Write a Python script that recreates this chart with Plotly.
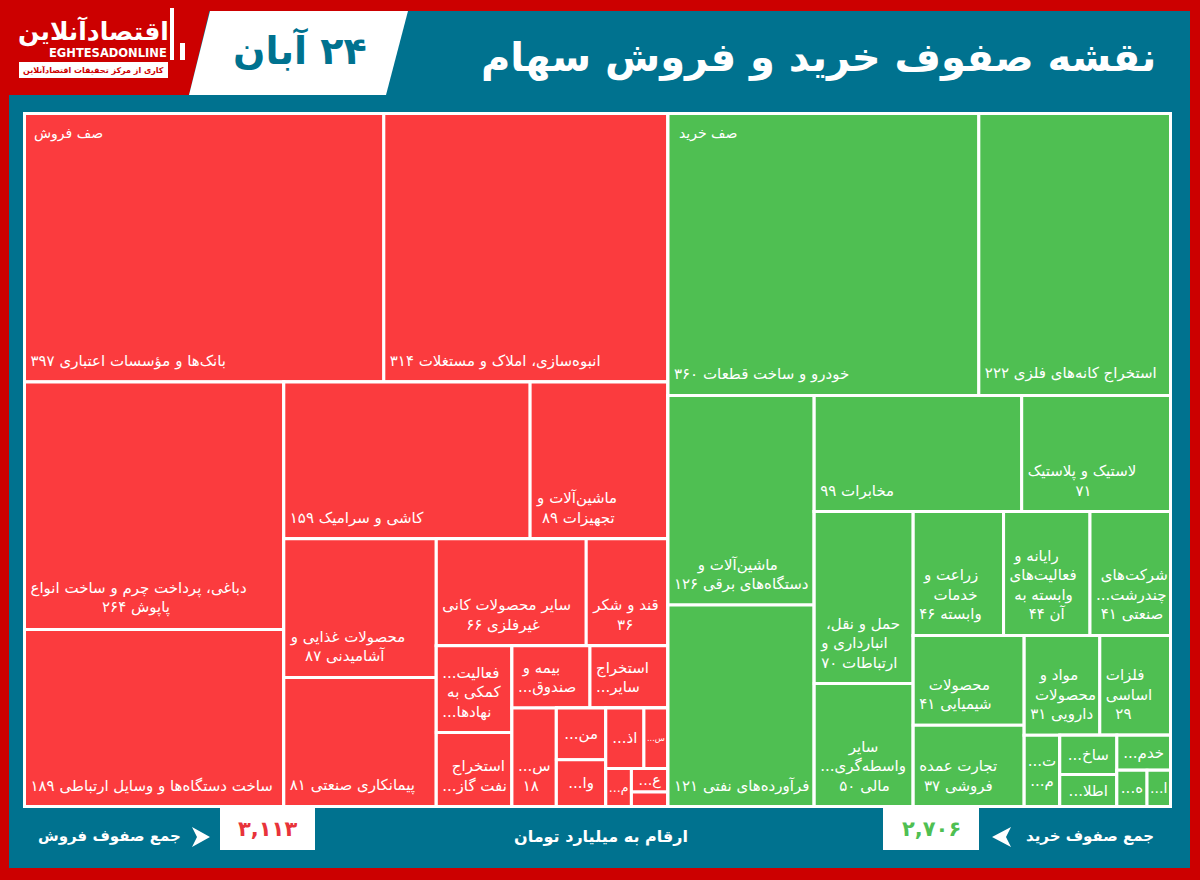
import plotly.graph_objects as go

W = 1200
H = 880
FONT = "DejaVu Sans"

# sell side (red), unlabelled small cells estimated from area
sell_text = [
    "بانک‌ها و مؤسسات اعتباری ۳۹۷",
    "انبوه‌سازی، املاک و مستغلات ۳۱۴",
    "دباغی، پرداخت چرم و ساخت انواع<br>پاپوش ۲۶۴",
    "ساخت دستگاه‌ها و وسایل ارتباطی ۱۸۹",
    "کاشی و سرامیک ۱۵۹",
    "ماشین‌آلات و<br>تجهیزات ۸۹",
    "محصولات غذایی و<br>آشامیدنی ۸۷",
    "پیمانکاری صنعتی ۸۱",
    "سایر محصولات کانی<br>غیرفلزی ۶۶",
    "قند و شکر<br>۳۶",
    "فعالیت...<br>کمکی به<br>نهادها...",
    "استخراج<br>نفت گاز...",
    "بیمه و<br>صندوق...",
    "استخراج<br>سایر...",
    "س...<br>۱۸",
    "من...",
    "وا...",
    "اذ...",
    "س...",
    "م...",
    "ع...",
    "",
]
sell_values = [397, 314, 264, 189, 159, 89, 87, 81, 66, 36, 27, 23, 20, 20, 18, 10.5, 9.5, 9.5, 6, 4, 3.5, 2.2]
# grouping only decides how the cells are packed, same rows and columns as the reference
sell_parents = ["a", "a", "b1", "b1", "c1", "c1", "d1", "d1", "e1", "e1", "f1", "f1", "g1", "g1",
                "g2", "h1", "h1", "i1", "i1", "i2", "j", "j"]
sell_groups = ["sell", "a", "b", "b1", "b2", "c1", "c2", "d1", "d2", "e1", "e2", "f1", "f2", "g1", "g2",
               "h", "h1", "h2", "i1", "i2", "j"]
sell_group_parents = ["", "sell", "sell", "b", "b", "b2", "b2", "c2", "c2", "d2", "d2", "e2", "e2", "f2", "f2",
                      "g2", "h", "h", "h2", "h2", "i2"]

# buy side (green)
buy_text = [
    "خودرو و ساخت قطعات ۳۶۰",
    "استخراج کانه‌های فلزی ۲۲۲",
    "ماشین‌آلات و<br>دستگاه‌های برقی ۱۲۶",
    "فرآورده‌های نفتی ۱۲۱",
    "مخابرات ۹۹",
    "لاستیک و پلاستیک<br>۷۱",
    "حمل و نقل،<br>انبارداری و<br>ارتباطات ۷۰",
    "سایر<br>واسطه‌گری...<br>مالی ۵۰",
    "زراعت و<br>خدمات<br>وابسته ۴۶",
    "رایانه و<br>فعالیت‌های<br>وابسته به<br>آن ۴۴",
    "شرکت‌های<br>چندرشت...<br>صنعتی ۴۱",
    "محصولات<br>شیمیایی ۴۱",
    "تجارت عمده<br>فروشی ۳۷",
    "مواد و<br>محصولات<br>دارویی ۳۱",
    "فلزات<br>اساسی<br>۲۹",
    "ت...<br>م...",
    "ساخ...",
    "اطلا...",
    "خدم...",
    "ه...",
    "ا...",
]
buy_values = [360, 222, 126, 121, 99, 71, 70, 50, 46, 44, 41, 41, 37, 31, 29, 10.4, 9.2, 7.5, 7.7, 4.5, 3.5]
buy_parents = ["ga", "ga", "gb1", "gb1", "gc1", "gc1", "gd1", "gd1", "ge1", "ge1", "ge1", "gf1", "gf1",
               "gg1", "gg1", "gg2", "gi1", "gi1", "gi2", "gj", "gj"]
buy_groups = ["buy", "ga", "gb", "gb1", "gb2", "gc1", "gc2", "gd1", "gd2", "ge1", "ge2", "gf1", "gf2",
              "gg1", "gg2", "gh", "gi1", "gi2", "gj"]
buy_group_parents = ["", "buy", "buy", "gb", "gb", "gb2", "gb2", "gc2", "gc2", "gd2", "gd2", "ge2", "ge2",
                     "gf2", "gf2", "gg2", "gh", "gh", "gi2"]

RED = "#FB3B3E"
GREEN = "#4FBF52"
TEAL = "#00728F"
FRAME = "#CC0000"
RLM = "\u200f"
NBSP = "\u00a0"
SMALL = 15  # cells under this value keep their text in the middle
TEXT_DX = 3
TEXT_DY = 9


def px(x):
    return x / W


def py(y):
    return 1 - y / H


def poly(points, color):
    path = "M " + " L ".join(f"{px(x)},{py(y)}" for x, y in points) + " Z"
    return dict(type="path", xref="paper", yref="paper", path=path,
                fillcolor=color, line=dict(width=0), layer="below")


def rect(x0, y0, x1, y1, color):
    return poly([(x0, y0), (x1, y0), (x1, y1), (x0, y1)], color)


def label(x, y, text, size, color="white", bold=True):
    if bold:
        text = f"<b>{text}</b>"
    return dict(x=px(x), y=py(y), xref="paper", yref="paper", text=text, showarrow=False,
                xanchor="center", yanchor="middle", font=dict(family=FONT, size=size, color=color))


# treemap text is left aligned here, so the lines get centred with blank space
def cell_text(text):
    if not text:
        return ""
    lines = text.split("<br>")
    longest = max(len(s) for s in lines)
    out = []
    for s in lines:
        pad = round((longest - len(s)) * 0.7)
        out.append(RLM + s + NBSP * pad + RLM)
    return "<br>".join(out)


def treemap(text, parents, values, groups, group_parents, colors, line_width, position, x0, x1, y0, y1):
    leaf_ids = [f"leaf{i}" for i in range(len(values))]
    return go.Treemap(
        ids=leaf_ids + groups,
        labels=leaf_ids + groups,
        parents=parents + group_parents,
        values=values + [0] * len(groups),
        branchvalues="remainder",
        text=text + [""] * len(groups),
        textinfo="text",
        textposition=position,
        sort=False,
        tiling=dict(packing="squarify", squarifyratio=1, pad=0),
        marker=dict(colors=[colors] * (len(values) + len(groups)), depthfade=False,
                    pad=dict(t=0, l=0, r=0, b=0), line=dict(color="white", width=line_width)),
        insidetextfont=dict(family=FONT, size=15, color="white"),
        pathbar=dict(visible=False),
        domain=dict(x=[px(x0), px(x1)], y=[py(y1), py(y0)]),
        hoverinfo="skip",
    )


def add_side(fig, text, values, parents, groups, group_parents, color, x0, x1):
    y0, y1 = 113.5, 806.5
    small = [cell_text(t) if v < SMALL else "" for t, v in zip(text, values)]
    large = [cell_text(t) if v >= SMALL else "" for t, v in zip(text, values)]
    fig.add_trace(treemap(small, parents, values, groups, group_parents, color, 3,
                          "middle center", x0, x1, y0, y1))
    # second transparent copy, moved a little, carries the bottom left labels with some inset
    fig.add_trace(treemap(large, parents, values, groups, group_parents, "rgba(0,0,0,0)", 0,
                          "bottom left", x0 + TEXT_DX, x1 + TEXT_DX, y0 - TEXT_DY, y1 - TEXT_DY))


fig = go.Figure()
add_side(fig, sell_text, sell_values, sell_parents, sell_groups, sell_group_parents, RED, 24.5, 668)
add_side(fig, buy_text, buy_values, buy_parents, buy_groups, buy_group_parents, GREEN, 668, 1170.5)

shapes = [
    rect(9, 11, 1190, 868, TEAL),
    poly([(0, 0), (212, 0), (189, 95), (0, 95)], FRAME),
    poly([(210, 11), (408, 11), (386, 95), (189, 95)], "white"),
    rect(24, 113, 1171, 808, "white"),
    # logo
    rect(19, 62, 168, 78, "white"),
    rect(170, 8, 174, 60, "white"),
    rect(180, 43, 185, 60, "white"),
    # footer boxes and arrows
    rect(220, 807, 315, 850, "white"),
    rect(883, 807, 979, 850, "white"),
    poly([(192, 827), (210, 837), (192, 847), (197, 837)], "white"),
    poly([(1011, 827), (992, 837), (1011, 847), (1006, 837)], "white"),
]

annotations = [
    label(818, 57, "نقشه صفوف خرید و فروش سهام", 40),
    label(300, 50, RLM + "۲۴ آبان", 38, TEAL),
    label(93, 31, "اقتصادآنلاین", 25),
    label(108, 53, "EGHTESADONLINE", 11.5),
    label(93, 70, "کاری از مرکز تحقیقات اقتصادآنلاین", 8, FRAME),
    label(68, 133, "صف فروش", 14, bold=False),
    label(708, 133, "صف خرید", 14, bold=False),
    label(267, 829, "۳,۱۱۳", 21, "#E8333A"),
    label(931, 829, "۲,۷۰۶", 21, GREEN),
    label(109, 836, "جمع صفوف فروش", 15),
    label(601, 836, "ارقام به میلیارد تومان", 16),
    label(1090, 836, "جمع صفوف خرید", 15),
]

fig.update_layout(
    width=W,
    height=H,
    margin=dict(l=0, r=0, t=0, b=0),
    paper_bgcolor=FRAME,
    shapes=shapes,
    annotations=annotations,
    showlegend=False,
)

fig.write_html("out.html", config=dict(displayModeBar=False), post_script="document.body.style.margin='0';")
